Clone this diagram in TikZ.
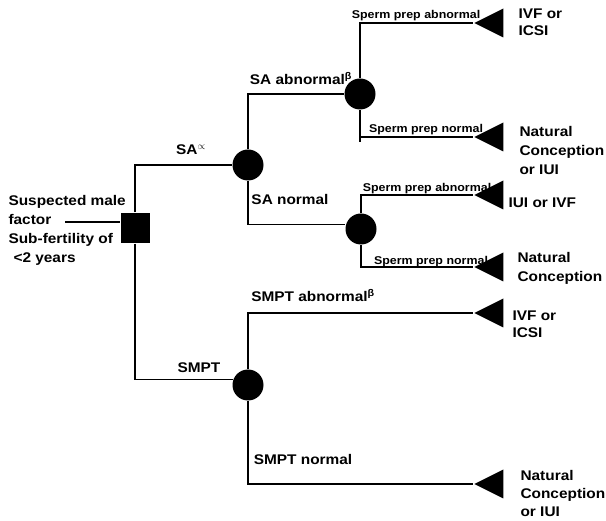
\documentclass[tikz,border=0pt]{standalone}
\usepackage{fontspec}
\setmainfont[FakeStretch=1.1]{Liberation Sans}
\usetikzlibrary{shapes.geometric, calc}

\def\xtri{473}   % apex column of the outcome triangles

\begin{document}
\begin{tikzpicture}[
  x=1pt, y=-1pt,
  line width=1.1pt,
  decis/.style  = {fill=black, minimum width=29pt, minimum height=30pt, inner sep=0pt},
  chance/.style = {circle, fill=black, minimum size=31pt, inner sep=0pt},
  term/.style   = {isosceles triangle, isosceles triangle stretches,
                   shape border rotate=180, fill=black, anchor=apex,
                   minimum width=29pt, minimum height=29pt, inner sep=0pt},
  blbl/.style   = {font=\fontsize{14}{19}\selectfont\bfseries, inner sep=0pt, anchor=base},
  slbl/.style   = {font=\fontsize{11.3}{13}\selectfont\bfseries, inner sep=0pt, anchor=base},
  outc/.style   = {font=\fontsize{14}{19}\selectfont\bfseries, inner sep=0pt,
                   align=left, anchor=north west},
]
\useasboundingbox (0,0) rectangle (606,521);

% ---------- decision, chance and outcome nodes ----------
\node[decis]  (root)   at (135,228) {};
\node[chance] (sa)     at (248,165) {};
\node[chance] (saab)   at (360,94)  {};
\node[chance] (sanorm) at (361,229) {};
\node[chance] (smpt)   at (248,385) {};
\foreach \n/\y in {t1/23, t2/137, t3/195, t4/267, t5/313, t6/484}{
  \node[term] (\n) at (\xtri,\y) {};
}
\coordinate (start) at (65,222);

% ---------- branches ----------
\draw (start) -- (start -| root.west);
\draw (root.north) |- (sa.west);
\draw (root.south) |- (smpt.160);
\draw (sa.north) |- (saab.west);
\draw (sa.south) |- (sanorm.165);
\draw (saab.north) |- (t1.apex);
\draw (saab.south) -- ([yshift=-5pt]saab.south |- t2.apex);
\draw (saab |- t2.apex) -- (t2.apex);
\draw (sanorm.north) |- (t3.apex);
\draw (sanorm.south) |- (t4.apex);
\draw (smpt.north) |- (t5.apex);
\draw (smpt.south) |- (t6.apex);

% ---------- branch labels ----------
\node[blbl] (lsa)   at (191,155) {SA$^{\propto}$};
\node[blbl] (lsaab) at (301,85)  {SA abnormal\textsuperscript{β}};
\node[blbl] (lsan)  at (290,205) {SA normal};
\node[blbl] (lsmab) at (313,302) {SMPT abnormal\textsuperscript{β}};
\node[blbl] (lsm)   at (199,373) {SMPT};
\node[blbl] (lsmn)  at (303,465) {SMPT normal};
\foreach \n/\x/\y/\t in {lsp1/416/19/abnormal, lsp2/426/133/normal,
                         lsp3/427/192/abnormal, lsp4/431/265/normal}{
  \node[slbl] (\n) at (\x,\y) {Sperm prep \t};
}

% ---------- outcomes ----------
\node[outc] (o1)   at (518,8)   {IVF or\\[-2pt]ICSI};
\node[outc] (o2)   at (519,126) {Natural\\Conception\\or IUI};
\node[outc] (o3)   at (508,197) {IUI or IVF};
\node[outc] (o4)   at (517,252) {Natural\\Conception};
\node[outc] (o5)   at (512,310) {IVF or\\[-2pt]ICSI};
\node[outc] (o6)   at (520,470) {Natural\\[-1pt]Conception\\[-1pt]or IUI};
\node[outc] (ctxt) at (8,195)   {Suspected male\\factor\\Sub-fertility of\\\hspace*{5pt}<2 years};

\end{tikzpicture}
\end{document}
